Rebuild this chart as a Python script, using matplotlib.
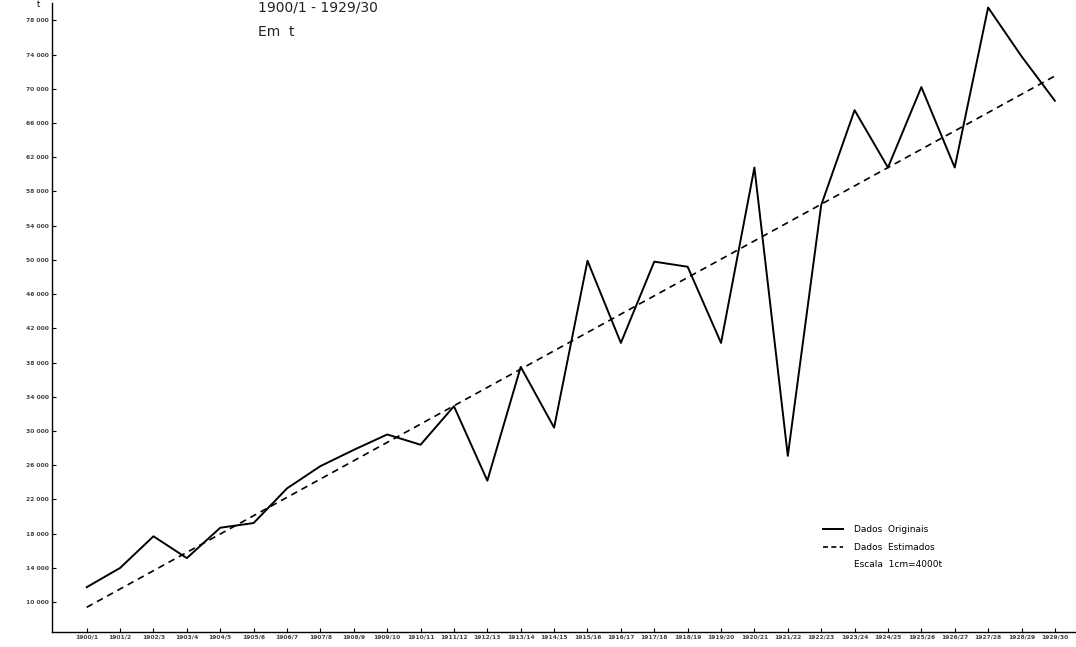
import matplotlib
matplotlib.use('Agg')
import matplotlib.pyplot as plt
from matplotlib.lines import Line2D

# Safras 1900/1 - 1929/30, em toneladas
safras = ['1900/1', '1901/2', '1902/3', '1903/4', '1904/5', '1905/6', '1906/7',
          '1907/8', '1908/9', '1909/10', '1910/11', '1911/12', '1912/13',
          '1913/14', '1914/15', '1915/16', '1916/17', '1917/18', '1918/19',
          '1919/20', '1920/21', '1921/22', '1922/23', '1923/24', '1924/25',
          '1925/26', '1926/27', '1927/28', '1928/29', '1929/30']
dados_originais = [11750, 14000, 17700, 15150, 18700, 19250, 23300, 25900,
                   27800, 29600, 28400, 32900, 24200, 37500, 30400, 49900,
                   40300, 49800, 49200, 40300, 60800, 27100, 56400, 67500,
                   60800, 70200, 60800, 79500, 73800, 68600]
# reta estimada: valores na primeira e na ultima safra
trend_idx = [0, 29]
dados_estimados = [9400, 71500]

y_ticks = [10000, 14000, 18000, 22000, 26000, 30000, 34000, 38000, 42000,
           46000, 50000, 54000, 58000, 62000, 66000, 70000, 74000, 78000]

fig = plt.figure(figsize=(10.76, 6.47), dpi=100)
ax = fig.add_axes([0.048, 0.023, 0.951, 0.972])

x = list(range(len(safras)))
ax.plot(x, dados_originais, color='black', lw=1.4, clip_on=False)
ax.plot(trend_idx, dados_estimados, color='black', lw=1.2, ls=(0, (4, 3)))

ax.set_xlim(-1.05, 29.6)
ax.set_ylim(6500, 80000)

ax.set_xticks(x)
ax.set_xticklabels(safras, fontsize=4.3, fontweight='bold', color='#444444')
ax.set_yticks(y_ticks)
ax.set_yticklabels([f'{v // 1000} 000' for v in y_ticks], fontsize=4.3,
                   fontweight='bold', color='#444444')
ax.tick_params(axis='both', direction='in', length=3, width=0.8, pad=2)

for s in ['top', 'right']:
    ax.spines[s].set_visible(False)
for s in ['left', 'bottom']:
    ax.spines[s].set_linewidth(1.0)

fig.text(0.036, 0.993, 't', fontsize=6, ha='center', va='center')
fig.text(0.24, 0.999, '1900/1 - 1929/30', fontsize=10, va='top',
         color='#222222')
fig.text(0.24, 0.951, 'Em  t', fontsize=10, va='center', color='#222222')

handles = [Line2D([], [], color='black', lw=1.4),
           Line2D([], [], color='black', lw=1.2, ls=(0, (3, 2))),
           Line2D([], [], color='none')]
labels = ['Dados  Originais', 'Dados  Estimados', 'Escala  1cm=4000t']
ax.legend(handles, labels, loc='upper left', bbox_to_anchor=(0.746, 0.183),
          frameon=False, fontsize=6.5, handlelength=2.2, labelspacing=0.95,
          handletextpad=1.2)

fig.savefig('out.png', dpi=100, facecolor='white')
